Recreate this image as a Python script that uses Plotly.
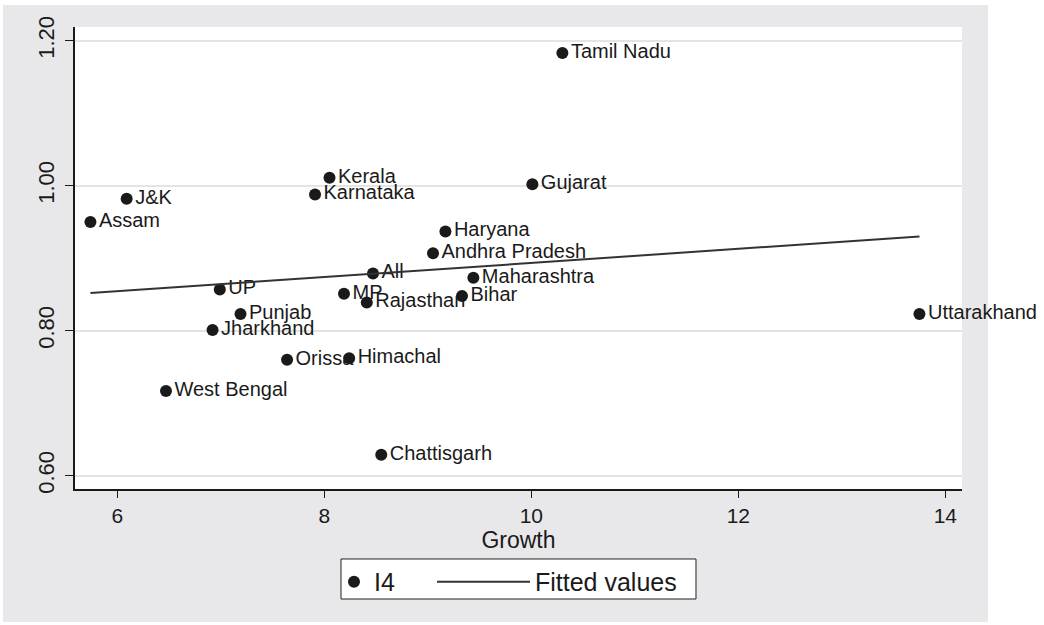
import plotly.graph_objects as go

states = ["Tamil Nadu", "Gujarat", "Kerala", "Karnataka", "J&K", "Assam", "Haryana",
          "Andhra Pradesh", "All", "Maharashtra", "UP", "MP", "Bihar", "Rajasthan",
          "Punjab", "Uttarakhand", "Jharkhand", "Orissa", "Himachal", "West Bengal",
          "Chattisgarh"]
growth = [10.30, 10.01, 8.05, 7.91, 6.09, 5.74, 9.17, 9.05, 8.47, 9.44, 6.99, 8.19,
          9.33, 8.41, 7.19, 13.75, 6.92, 7.64, 8.24, 6.47, 8.55]
i4 = [1.183, 1.002, 1.011, 0.988, 0.982, 0.950, 0.937, 0.907, 0.879, 0.873, 0.857,
      0.851, 0.848, 0.839, 0.823, 0.823, 0.801, 0.760, 0.762, 0.717, 0.629]

fit_x = [5.74, 13.75]
fit_y = [0.852, 0.930]

x_ticks = [6, 8, 10, 12, 14]
y_ticks = [0.60, 0.80, 1.00, 1.20]
y_tick_text = ["0.60", "0.80", "1.00", "1.20"]

FONT = "Liberation Sans, Arial, Helvetica, sans-serif"
INK = "#1a1a1a"
BG = "#e8e8ea"

fig = go.Figure()
fig.add_trace(go.Scatter(
    x=growth, y=i4, text=states, mode="markers+text", name="I4",
    textposition="middle right", cliponaxis=False,
    marker=dict(size=12, color=INK),
    textfont=dict(family=FONT, size=20, color=INK),
    legend="legend",
))
fig.add_trace(go.Scatter(
    x=fit_x, y=fit_y, mode="lines", name="Fitted values",
    line=dict(color="#333333", width=2),
    legend="legend2",
))

leg_common = dict(
    orientation="h", y=-0.1515, yanchor="top", xanchor="left",
    bgcolor="rgba(0,0,0,0)", borderwidth=0,
    font=dict(family=FONT, size=25, color=INK),
)

fig.update_layout(
    width=1044, height=625,
    margin=dict(l=75, r=82, t=27, b=136),
    paper_bgcolor="white", plot_bgcolor="white",
    font=dict(family=FONT, color=INK),
    showlegend=True,
    legend=dict(x=(334 - 75) / 887, itemwidth=30, **leg_common),
    legend2=dict(x=(432 - 75) / 887, itemwidth=93, **leg_common),
    shapes=[
        dict(type="rect", xref="paper", yref="paper", x0=-0.0812, x1=1.0293,
             y0=-0.2879, y1=1.0476, fillcolor=BG, line=dict(width=0), layer="below"),
        dict(type="rect", xref="paper", yref="paper", x0=0, x1=1, y0=0, y1=1,
             fillcolor="white", line=dict(width=0), layer="below"),
        dict(type="rect", xref="paper", yref="paper", x0=0.2999, x1=0.7001,
             y0=-0.2381, y1=-0.1515, fillcolor="white",
             line=dict(width=1, color="#222222"), layer="below"),
    ],
)
fig.update_xaxes(
    range=[5.591, 14.161], tickvals=x_ticks, showgrid=False, zeroline=False,
    showline=True, linecolor=INK, linewidth=1.5,
    ticks="outside", ticklen=7, tickcolor=INK, tickwidth=1,
    tickfont=dict(family=FONT, size=21, color=INK), ticklabelstandoff=0,
    title=dict(text="Growth", font=dict(family=FONT, size=23, color=INK), standoff=0),
)
fig.update_yaxes(
    range=[0.5817, 1.2189], tickvals=y_ticks, ticktext=y_tick_text, tickangle=-90,
    showgrid=True, gridcolor="#e4e4e4", gridwidth=1.5, zeroline=False,
    showline=True, linecolor=INK, linewidth=1.5,
    ticks="outside", ticklen=8, tickcolor=INK, tickwidth=1,
    tickfont=dict(family=FONT, size=22, color=INK), ticklabelstandoff=2,
)

fig.write_html("out.html", config={"displayModeBar": False},
               post_script="document.body.style.margin='0';")
